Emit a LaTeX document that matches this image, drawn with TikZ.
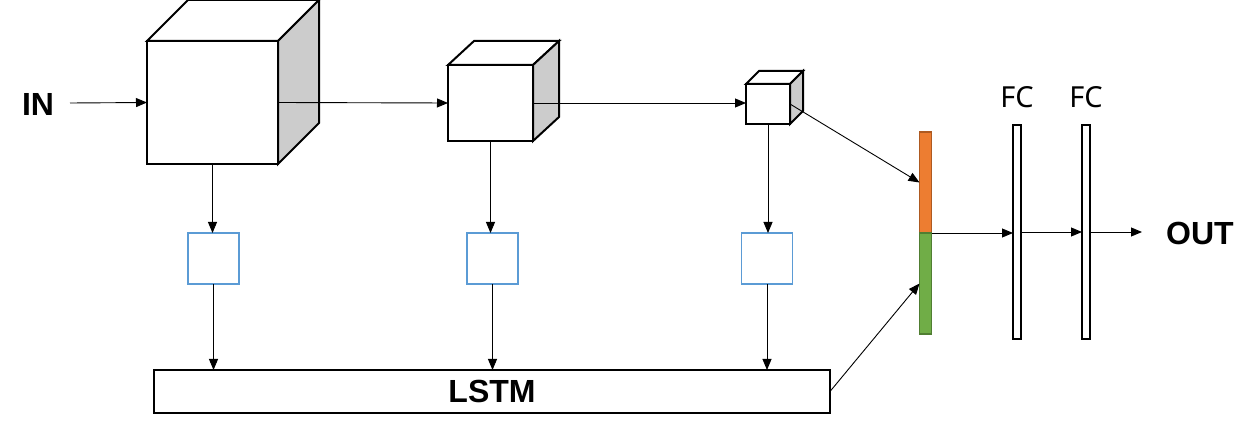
\documentclass[tikz,border=0pt]{standalone}
\usepackage{fontspec}
\setmainfont{Noto Sans}
\newfontfamily\lblfont{Liberation Sans}
\usetikzlibrary{arrows.meta}
\definecolor{sidegray}{RGB}{204,204,204}
\definecolor{boxblue}{RGB}{91,155,213}
\definecolor{orfill}{RGB}{237,125,49}
\definecolor{ordraw}{RGB}{174,90,33}
\definecolor{grfill}{RGB}{112,173,71}
\definecolor{grdraw}{RGB}{80,126,50}
\tikzset{
  front/.style={draw, line width=2pt, fill=white, rectangle, outer sep=0pt, inner sep=0pt},
  cubeface/.style={draw, line width=2pt, line join=miter},
  arr/.style={-{Triangle[length=11pt,width=9pt]}, line width=0.9pt},
  blbox/.style={draw=boxblue, line width=1.4pt, minimum width=51pt, minimum height=51pt, inner sep=0pt, outer sep=0pt},
  fcbar/.style={draw, line width=1.6pt, fill=white, minimum width=8pt, minimum height=214pt, inner sep=0pt, outer sep=0pt},
  lbl/.style={font=\lblfont\fontsize{32}{36}\selectfont\bfseries, inner sep=0pt},
  fclbl/.style={font=\fontsize{29}{34}\selectfont, inner sep=0pt}
}
\begin{document}
\begin{tikzpicture}[x=1pt,y=-1pt]
\useasboundingbox (0,0) rectangle (1254,438);
% cube 1
\node[front, minimum width=131pt, minimum height=123pt] (c1) at (212.5,102.5) {};
\draw[cubeface, fill=white] (c1.north west) -- ++(41,-41) -- ++(131,0) -- (c1.north east) -- cycle;
\draw[cubeface, fill=sidegray] (c1.north east) -- ++(41,-41) -- ++(0,123) -- (c1.south east) -- cycle;
% cube 2
\node[front, minimum width=85pt, minimum height=76pt] (c2) at (490.5,103) {};
\draw[cubeface, fill=white] (c2.north west) -- ++(26,-24) -- ++(85,0) -- (c2.north east) -- cycle;
\draw[cubeface, fill=sidegray] (c2.north east) -- ++(26,-24) -- ++(0,76) -- (c2.south east) -- cycle;
% cube 3
\node[front, minimum width=44pt, minimum height=40pt] (c3) at (768,104) {};
\draw[cubeface, fill=white] (c3.north west) -- ++(13,-13) -- ++(44,0) -- (c3.north east) -- cycle;
\draw[cubeface, fill=sidegray] (c3.north east) -- ++(13,-13) -- ++(0,40) -- (c3.south east) -- cycle;
% labels
\node[lbl] (in) at (38,104) {IN};
\node[lbl] (out) at (1200,233) {OUT};
% blue boxes
\node[blbox] (b1) at (213.5,258.5) {};
\node[blbox] (b2) at (492.5,258.5) {};
\node[blbox] (b3) at (767,258.5) {};
% LSTM
\node[draw, line width=1.6pt, minimum width=676pt, minimum height=43pt, inner sep=0pt, outer sep=0pt] (lstm) at (492,391.5) {};
\node[lbl] (lstmt) at (lstm.center) {LSTM};
% concat bar
\node[draw=ordraw, fill=orfill, line width=1.5pt, minimum width=12pt, minimum height=101pt, inner sep=0pt, outer sep=0pt] (or) at (925.5,182.5) {};
\node[draw=grdraw, fill=grfill, line width=1.5pt, minimum width=12pt, minimum height=101pt, inner sep=0pt, outer sep=0pt] (gr) at (925.5,283.5) {};
% FC
\node[fcbar] (fc1) at (1017,232) {};
\node[fcbar] (fc2) at (1086,232) {};
\node[fclbl] (fcl1) at (1017,97) {FC};
\node[fclbl] (fcl2) at (1086,97) {FC};
% connectors
\draw[arr] (70,103) coordinate (inend) -- (c1.west);
\draw[arr] (c1.east) -- (c2.west);
\draw[arr] (c2.east) -- (c2.east -| c3.west);
\draw[arr] (c3.east) -- (or.west);
\draw[arr] (lstm.east) -- (gr.west);
\draw[arr] (c1.south) -- (c1.south |- b1.north);
\draw[arr] (c2.south) -- (c2.south |- b2.north);
\draw[arr] (c3.south) -- (c3.south |- b3.north);
\draw[arr] (b1.south) -- (b1.south |- lstm.north);
\draw[arr] (b2.south) -- (b2.south |- lstm.north);
\draw[arr] (b3.south) -- (b3.south |- lstm.north);
\draw[arr] (or.south east) -- (or.south east -| fc1.west);
\draw[arr] (fc1.east) -- (fc2.west);
\draw[arr] (fc2.east) -- (1142,232) coordinate (outarr);
\end{tikzpicture}
\end{document}
